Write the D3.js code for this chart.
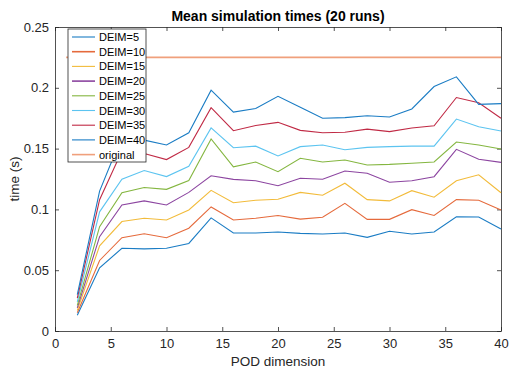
<!DOCTYPE html>
<html>
<head>
<meta charset="utf-8">
<script src="https://cdn.jsdelivr.net/npm/d3@7"></script>
<style>
  body { margin: 0; background: #fff; }
  svg { font-family: "Liberation Sans", Arial, Helvetica, sans-serif; }
</style>
</head>
<body>
<svg id="chart" width="510" height="371"></svg>
<script>
// POD dimension (x)
var podDims = [2, 4, 6, 8, 10, 12, 14, 16, 18, 20, 22, 24, 26, 28, 30, 32, 34, 36, 38, 40]

// mean times per DEIM size
var deim5  = [0.013, 0.052, 0.068, 0.0675, 0.068, 0.072, 0.093, 0.0806, 0.0806, 0.0814, 0.0803, 0.0798, 0.0806, 0.077, 0.082, 0.0798, 0.0814, 0.094, 0.0937, 0.0839]
var deim10 = [0.015, 0.058, 0.0767, 0.080, 0.0767, 0.0845, 0.102, 0.0913, 0.0927, 0.095, 0.092, 0.0935, 0.105, 0.0918, 0.0918, 0.0998, 0.095, 0.108, 0.1075, 0.0995]
var deim15 = [0.017, 0.070, 0.090, 0.0927, 0.0913, 0.0995, 0.1157, 0.1055, 0.1075, 0.1083, 0.114, 0.1116, 0.1215, 0.108, 0.107, 0.1154, 0.110, 0.1236, 0.1285, 0.1137]
var deim20 = [0.019, 0.0776, 0.1036, 0.107, 0.1036, 0.114, 0.1277, 0.1247, 0.1236, 0.1195, 0.1256, 0.1248, 0.1316, 0.1297, 0.1223, 0.1236, 0.1269, 0.1494, 0.1412, 0.1387]
var deim25 = [0.021, 0.0858, 0.1137, 0.118, 0.1165, 0.1238, 0.158, 0.135, 0.139, 0.131, 0.142, 0.139, 0.1406, 0.1365, 0.137, 0.138, 0.139, 0.1554, 0.153, 0.1497]
var deim30 = [0.024, 0.098, 0.1248, 0.132, 0.127, 0.1355, 0.167, 0.1507, 0.152, 0.144, 0.1516, 0.153, 0.149, 0.151, 0.1516, 0.152, 0.152, 0.1743, 0.168, 0.1645]
var deim35 = [0.027, 0.108, 0.148, 0.146, 0.141, 0.151, 0.1836, 0.1647, 0.169, 0.1716, 0.165, 0.163, 0.1635, 0.166, 0.164, 0.167, 0.1688, 0.192, 0.1877, 0.175]
var deim40 = [0.030, 0.115, 0.160, 0.157, 0.153, 0.163, 0.198, 0.180, 0.183, 0.193, 0.184, 0.175, 0.1755, 0.177, 0.176, 0.1826, 0.201, 0.209, 0.1864, 0.187]

var originalX = [1, 40]
var originalY = [0.225, 0.225]

var seriesNames = ["DEIM=5", "DEIM=10", "DEIM=15", "DEIM=20", "DEIM=25", "DEIM=30", "DEIM=35", "DEIM=40", "original"]
var seriesColors = ["#1a7cc4", "#e56a3c", "#f2bb3a", "#8c45a0", "#84b640", "#5cc4f0", "#c02a45", "#1a7cc4", "#f0a07c"]

var xTicks = [0, 5, 10, 15, 20, 25, 30, 35, 40]
var yTicks = [0, 0.05, 0.1, 0.15, 0.2, 0.25]

var svg = d3.select("#chart")
var margin = { l: 55, r: 9, t: 27, b: 40 }
var W = 510, H = 371

var x = d3.scaleLinear().domain([0, 40]).range([margin.l, W - margin.r])
var y = d3.scaleLinear().domain([0, 0.25]).range([H - margin.b, margin.t])

var axisColor = "#262626"

// title
svg.append("text")
  .attr("x", (x(0) + x(40)) / 2).attr("y", 21)
  .attr("text-anchor", "middle")
  .style("font-size", "14px").style("font-weight", "bold").attr("fill", "#000")
  .text("Mean simulation times (20 runs)")

// axes (ticks inward, box all round)
var tl = 4
svg.append("g").attr("transform", "translate(0," + y(0) + ")")
  .call(d3.axisBottom(x).tickValues(xTicks).tickSizeInner(-tl).tickSizeOuter(0).tickPadding(8).tickFormat(d3.format("d")))
svg.append("g").attr("transform", "translate(0," + y(0.25) + ")")
  .call(d3.axisTop(x).tickValues(xTicks).tickSizeInner(-tl).tickSizeOuter(0).tickFormat(""))
svg.append("g").attr("transform", "translate(" + x(0) + ",0)")
  .call(d3.axisLeft(y).tickValues(yTicks).tickSizeInner(-tl).tickSizeOuter(0).tickPadding(6)
    .tickFormat(d => d === 0 ? "0" : d3.format("")(+d.toFixed(2))))
svg.append("g").attr("transform", "translate(" + x(40) + ",0)")
  .call(d3.axisRight(y).tickValues(yTicks).tickSizeInner(-tl).tickSizeOuter(0).tickFormat(""))

svg.selectAll(".domain").attr("stroke", axisColor).attr("stroke-width", 0.8)
svg.selectAll(".tick line").attr("stroke", axisColor).attr("stroke-width", 0.8)
svg.selectAll(".tick text").style("font-size", "13px").attr("fill", axisColor)
  .style("font-family", "'Liberation Sans', Arial, sans-serif")

// axis labels
svg.append("text")
  .attr("x", (x(0) + x(40)) / 2).attr("y", 366)
  .attr("text-anchor", "middle").style("font-size", "13.5px").attr("fill", axisColor)
  .text("POD dimension")
svg.append("text")
  .attr("transform", "translate(19," + (y(0.125)) + ") rotate(-90)")
  .attr("text-anchor", "middle").style("font-size", "13.5px").attr("fill", axisColor)
  .text("time (s)")

// lines
var allSeries = [deim5, deim10, deim15, deim20, deim25, deim30, deim35, deim40]
var line = d3.line().x(d => x(d[0])).y(d => y(d[1]))

allSeries.forEach(function (s, i) {
  svg.append("path")
    .datum(d3.zip(podDims, s))
    .attr("fill", "none").attr("stroke", seriesColors[i]).attr("stroke-width", 1.1)
    .attr("d", line)
})
svg.append("path")
  .datum(d3.zip(originalX, originalY))
  .attr("fill", "none").attr("stroke", seriesColors[8]).attr("stroke-width", 1.6)
  .attr("d", line)

// legend
var lg = svg.append("g").attr("transform", "translate(68,29)")
var rowH = 14.7
lg.append("rect").attr("x", 0).attr("y", 0).attr("width", 78).attr("height", 133)
  .attr("fill", "#fff").attr("stroke", axisColor).attr("stroke-width", 0.8)
seriesNames.forEach(function (n, i) {
  var yy = 8 + i * rowH
  lg.append("line").attr("x1", 4).attr("x2", 27).attr("y1", yy).attr("y2", yy)
    .attr("stroke", seriesColors[i]).attr("stroke-width", (i == 8 || i == 1 || i == 3) ? 1.6 : 1.1)
  lg.append("text").attr("x", 31).attr("y", yy + 4)
    .style("font-size", "11px").attr("fill", "#000").text(n)
})
</script>
</body>
</html>
